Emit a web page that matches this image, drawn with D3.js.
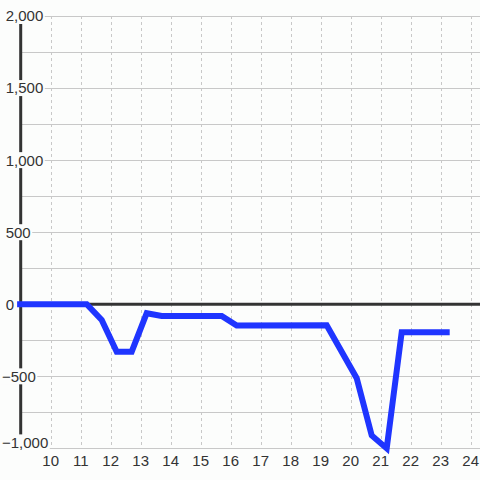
<!DOCTYPE html>
<html><head><meta charset="utf-8">
<script src="https://cdn.jsdelivr.net/npm/d3@7"></script>
<style>
html,body{margin:0;padding:0;background:#fcfdfc;}
svg{display:block;}
text{font-family:"Liberation Sans",Arial,sans-serif;font-size:15px;fill:#333;}
</style></head>
<body>
<script>
const xs = [8.88, 11.2, 11.7, 12.2, 12.7, 13.2, 13.7, 15.7, 16.2, 19.2, 20.2, 20.7, 21.2, 21.7, 23.3];
const ys = [0, 0, -109, -329, -329, -62, -81, -81, -148, -145, -513, -910, -1000, -194, -194];
const xTicks = [10, 11, 12, 13, 14, 15, 16, 17, 18, 19, 20, 21, 22, 23, 24];
const yTicks = [-1000, -500, 0, 500, 1000, 1500, 2000];
const yGrid = [-1000, -750, -500, -250, 0, 250, 500, 750, 1000, 1250, 1500, 1750, 2000];
const xGrid = [10, 11, 12, 13, 14, 15, 16, 17, 18, 19, 20, 21, 22, 23, 24];

const W = 480, H = 480;
const x = d3.scaleLinear().domain([9, 24]).range([20.7, 470.7]);
const y = d3.scaleLinear().domain([-1000, 2000]).range([448.4, 16]);
const fmt = d3.format(",");

const svg = d3.select("body").append("svg").attr("width", W).attr("height", H);
svg.append("rect").attr("width", W).attr("height", H).attr("fill", "#fcfdfc");

// horizontal gridlines
svg.append("g").selectAll("line").data(yGrid).join("line")
  .attr("x1", 20.7).attr("x2", W)
  .attr("y1", d => Math.round(y(d)) + 0.5).attr("y2", d => Math.round(y(d)) + 0.5)
  .attr("stroke", "#c8c8c8").attr("stroke-width", 1);

// vertical dashed gridlines
svg.append("g").selectAll("line").data(xGrid).join("line")
  .attr("x1", d => Math.round(x(d)) + 0.5).attr("x2", d => Math.round(x(d)) + 0.5)
  .attr("y1", y(2000)).attr("y2", y(-1000))
  .attr("stroke", "#c8c8c8").attr("stroke-width", 1).attr("stroke-dasharray", "3,3");

// y axis line
svg.append("line").attr("x1", x(9)).attr("x2", x(9))
  .attr("y1", y(2000)).attr("y2", y(-1000))
  .attr("stroke", "#333").attr("stroke-width", 3);

// zero line
svg.append("line").attr("x1", x(9)).attr("x2", W)
  .attr("y1", y(0)).attr("y2", y(0))
  .attr("stroke", "#333").attr("stroke-width", 3);

// data line
const pts = xs.map((v, i) => [v, ys[i]]);
svg.append("path").datum(pts)
  .attr("d", d3.line().x(d => x(d[0])).y(d => y(d[1])))
  .attr("fill", "none").attr("stroke", "#1f35ff").attr("stroke-width", 6)
  .attr("stroke-linejoin", "miter").attr("stroke-linecap", "butt");

// y tick labels with background
const yl = svg.append("g");
yTicks.forEach(v => {
  const g = yl.append("g");
  const ty = y(v) + (v === -1000 ? -6 : 0);
  const t = g.append("text").attr("x", v < 0 ? 2 : 5.7).attr("y", ty).attr("dy", "0.36em").text(fmt(v));
  const bb = t.node().getBBox();
  g.insert("rect", "text").attr("x", bb.x - 1.5).attr("y", ty - 8)
    .attr("width", bb.width + 3).attr("height", 16).attr("fill", "#fcfdfc");
});

// x tick labels
svg.append("g").selectAll("text").data(xTicks).join("text")
  .attr("x", d => x(d)).attr("y", 465.6).attr("text-anchor", "middle").text(d => d);
</script>
</body></html>
